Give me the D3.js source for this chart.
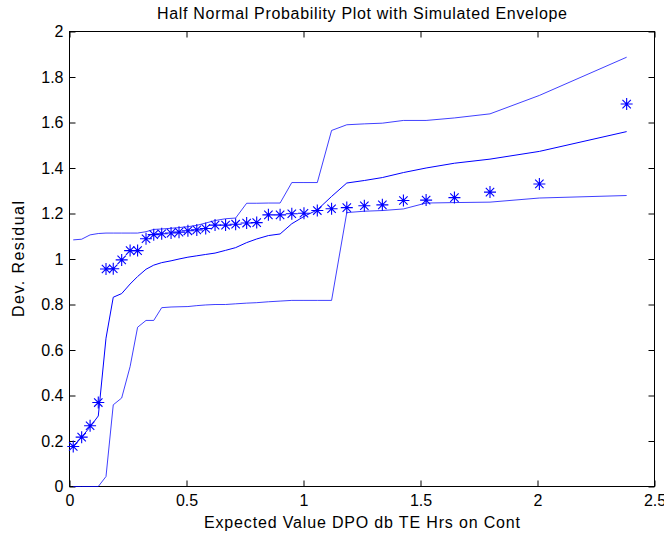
<!DOCTYPE html>
<html>
<head>
<meta charset="utf-8">
<script src="https://cdn.jsdelivr.net/npm/d3@7"></script>
<style>
body { margin: 0; background: #fff; }
text { font-family: "Liberation Sans", Arial, sans-serif; fill: #000; }
</style>
</head>
<body>
<script>
// expected half normal quantiles (x) and sorted deviance residuals (y)
var expected = [0.016, 0.052, 0.088, 0.123, 0.156, 0.187, 0.223, 0.259, 0.291, 0.327,
	0.36, 0.394, 0.434, 0.468, 0.506, 0.544, 0.582, 0.622, 0.667, 0.71,
	0.757, 0.80, 0.85, 0.90, 0.95, 1.002, 1.059, 1.12, 1.185, 1.26,
	1.337, 1.427, 1.524, 1.645, 1.797, 2.008, 2.381]
var residual = [0.176, 0.217, 0.267, 0.369, 0.956, 0.957, 0.996, 1.037, 1.037, 1.089,
	1.107, 1.111, 1.114, 1.118, 1.124, 1.128, 1.134, 1.149, 1.149, 1.153,
	1.158, 1.160, 1.194, 1.194, 1.199, 1.201, 1.213, 1.221, 1.226, 1.234,
	1.238, 1.257, 1.259, 1.27, 1.294, 1.33, 1.681]

// simulated envelope
var lowerEnv = [0, 0, 0, 0, 0.044, 0.359, 0.389, 0.527, 0.70, 0.73,
	0.73, 0.786, 0.789, 0.79, 0.791, 0.795, 0.798, 0.80, 0.80, 0.803,
	0.806, 0.808, 0.812, 0.815, 0.818, 0.818, 0.818, 0.818, 1.204, 1.21,
	1.213, 1.22, 1.246, 1.248, 1.25, 1.268, 1.279]
var middleEnv = [0.176, 0.217, 0.262, 0.31, 0.652, 0.832, 0.848, 0.89, 0.923, 0.955,
	0.973, 0.984, 0.992, 1.0, 1.008, 1.014, 1.02, 1.026, 1.038, 1.05,
	1.072, 1.088, 1.103, 1.11, 1.155, 1.187, 1.216, 1.275, 1.334, 1.345,
	1.358, 1.38, 1.4, 1.421, 1.439, 1.473, 1.56]
var upperEnv = [1.084, 1.087, 1.106, 1.112, 1.114, 1.114, 1.114, 1.114, 1.114, 1.12,
	1.13, 1.132, 1.135, 1.138, 1.142, 1.148, 1.158, 1.169, 1.177, 1.18,
	1.245, 1.245, 1.246, 1.246, 1.336, 1.336, 1.336, 1.565, 1.59, 1.594,
	1.597, 1.609, 1.609, 1.62, 1.638, 1.719, 1.887]

var xTicks = [0, 0.5, 1, 1.5, 2, 2.5]
var yTicks = [0, 0.2, 0.4, 0.6, 0.8, 1, 1.2, 1.4, 1.6, 1.8, 2]

var svgWidth = 664, svgHeight = 538
var plotLeft = 69.5, plotRight = 654.5, plotTop = 31.5, plotBottom = 486.5

var svg = d3.select("body").append("svg")
	.attr("width", svgWidth).attr("height", svgHeight)

var x = d3.scaleLinear().domain([0, 2.5]).range([plotLeft, plotRight])
var y = d3.scaleLinear().domain([0, 2]).range([plotBottom, plotTop])

// axes, ticks pointing inward on all four sides
var tickLen = 6
svg.append("g").attr("transform", "translate(0," + plotBottom + ")")
	.call(d3.axisBottom(x).tickValues(xTicks).tickSizeInner(-tickLen).tickSizeOuter(0).tickPadding(8).tickFormat(d3.format("")))
svg.append("g").attr("transform", "translate(0," + plotTop + ")")
	.call(d3.axisTop(x).tickValues(xTicks).tickSizeInner(-tickLen).tickSizeOuter(0).tickFormat(""))
svg.append("g").attr("transform", "translate(" + plotLeft + ",0)")
	.call(d3.axisLeft(y).tickValues(yTicks).tickSizeInner(-tickLen).tickSizeOuter(0).tickPadding(6).tickFormat(d3.format("")))
svg.append("g").attr("transform", "translate(" + plotRight + ",0)")
	.call(d3.axisRight(y).tickValues(yTicks).tickSizeInner(-tickLen).tickSizeOuter(0).tickFormat(""))

svg.selectAll(".domain").remove()
svg.selectAll(".tick line").attr("stroke", "#000")
svg.selectAll(".tick text").attr("font-size", 16).attr("font-family", "Liberation Sans, Arial, sans-serif")

svg.append("rect")
	.attr("x", plotLeft).attr("y", plotTop)
	.attr("width", plotRight - plotLeft).attr("height", plotBottom - plotTop)
	.attr("fill", "none").attr("stroke", "#000").attr("stroke-width", 1)

// envelope lines
var line = d3.line().x(function(d) { return x(d[0]) }).y(function(d) { return y(d[1]) })
var envelopes = [[lowerEnv, 0.75], [middleEnv, 1], [upperEnv, 0.75]]
envelopes.forEach(function(env) {
	svg.append("path")
		.datum(expected.map(function(v, i) { return [v, env[0][i]] }))
		.attr("d", line)
		.attr("fill", "none")
		.attr("stroke", "#0000ff")
		.attr("stroke-opacity", env[1])
		.attr("stroke-width", 1)
})

// asterisk markers
var r = 6, rd = 4.2
var star = "M" + (-r) + ",0L" + r + ",0M0," + (-r) + "L0," + r +
	"M" + (-rd) + "," + (-rd) + "L" + rd + "," + rd + "M" + (-rd) + "," + rd + "L" + rd + "," + (-rd)
svg.append("g").selectAll("path")
	.data(expected.map(function(v, i) { return [v, residual[i]] }))
	.enter().append("path")
	.attr("transform", function(d) { return "translate(" + x(d[0]) + "," + y(d[1]) + ")" })
	.attr("d", star)
	.attr("fill", "none")
	.attr("stroke", "#0000ff")
	.attr("stroke-width", 1.1)

// titles
var midX = (plotLeft + plotRight) / 2
svg.append("text").text("Half Normal Probability Plot with Simulated Envelope")
	.attr("x", midX).attr("y", 19)
	.attr("text-anchor", "middle").attr("font-size", 16)
	.attr("textLength", 410).attr("lengthAdjust", "spacing")
svg.append("text").text("Expected Value DPO db TE Hrs on Cont")
	.attr("x", midX).attr("y", 528)
	.attr("text-anchor", "middle").attr("font-size", 16)
	.attr("textLength", 316).attr("lengthAdjust", "spacing")
svg.append("text").text("Dev. Residual")
	.attr("transform", "translate(24," + (plotTop + plotBottom) / 2 + ") rotate(-90)")
	.attr("text-anchor", "middle").attr("font-size", 16)
	.attr("textLength", 116).attr("lengthAdjust", "spacing")
</script>
</body>
</html>
